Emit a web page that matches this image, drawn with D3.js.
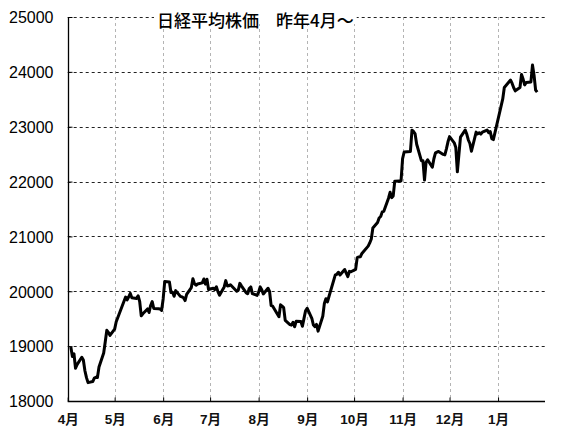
<!DOCTYPE html>
<html><head><meta charset="utf-8">
<script src="https://cdn.jsdelivr.net/npm/d3@7"></script>
<style>
html,body{margin:0;padding:0;background:#fff;}
svg{display:block;}
</style></head>
<body>
<script>
const title = "日経平均株価　昨年4月～";
const yTicks = [18000, 19000, 20000, 21000, 22000, 23000, 24000, 25000];
const monthTicks = ["2017-04-01","2017-05-01","2017-06-01","2017-07-01","2017-08-01","2017-09-01","2017-10-01","2017-11-01","2017-12-01","2018-01-01"];
const monthLabels = ["4月","5月","6月","7月","8月","9月","10月","11月","12月","1月"];
const xDomain = ["2017-04-01","2018-01-31"];

const dates = [
"2017-04-03","2017-04-04","2017-04-05","2017-04-06","2017-04-07","2017-04-10","2017-04-11","2017-04-12","2017-04-13","2017-04-14","2017-04-17","2017-04-18","2017-04-19","2017-04-20","2017-04-21","2017-04-24","2017-04-25","2017-04-26","2017-04-27","2017-04-28",
"2017-05-01","2017-05-02","2017-05-08","2017-05-09","2017-05-10","2017-05-11","2017-05-12","2017-05-15","2017-05-16","2017-05-17","2017-05-18","2017-05-19","2017-05-22","2017-05-23","2017-05-24","2017-05-25","2017-05-26","2017-05-29","2017-05-30","2017-05-31",
"2017-06-01","2017-06-02","2017-06-05","2017-06-06","2017-06-07","2017-06-08","2017-06-09","2017-06-12","2017-06-13","2017-06-14","2017-06-15","2017-06-16","2017-06-19","2017-06-20","2017-06-21","2017-06-22","2017-06-23","2017-06-26","2017-06-27","2017-06-28","2017-06-29","2017-06-30",
"2017-07-03","2017-07-04","2017-07-05","2017-07-06","2017-07-07","2017-07-10","2017-07-11","2017-07-12","2017-07-13","2017-07-14","2017-07-18","2017-07-19","2017-07-20","2017-07-21","2017-07-24","2017-07-25","2017-07-26","2017-07-27","2017-07-28","2017-07-31",
"2017-08-01","2017-08-02","2017-08-03","2017-08-04","2017-08-07","2017-08-08","2017-08-09","2017-08-10","2017-08-14","2017-08-15","2017-08-16","2017-08-17","2017-08-18","2017-08-21","2017-08-22","2017-08-23","2017-08-24","2017-08-25","2017-08-28","2017-08-29","2017-08-30","2017-08-31",
"2017-09-01","2017-09-04","2017-09-05","2017-09-06","2017-09-07","2017-09-08","2017-09-11","2017-09-12","2017-09-13","2017-09-14","2017-09-15","2017-09-19","2017-09-20","2017-09-21","2017-09-22","2017-09-25","2017-09-26","2017-09-27","2017-09-28","2017-09-29",
"2017-10-02","2017-10-03","2017-10-04","2017-10-05","2017-10-06","2017-10-10","2017-10-11","2017-10-12","2017-10-13","2017-10-16","2017-10-17","2017-10-18","2017-10-19","2017-10-20","2017-10-23","2017-10-24","2017-10-25","2017-10-26","2017-10-27","2017-10-30","2017-10-31",
"2017-11-01","2017-11-02","2017-11-06","2017-11-07","2017-11-08","2017-11-09","2017-11-10","2017-11-13","2017-11-14","2017-11-15","2017-11-16","2017-11-17","2017-11-20","2017-11-21","2017-11-22","2017-11-24","2017-11-27","2017-11-28","2017-11-29","2017-11-30",
"2017-12-01","2017-12-04","2017-12-05","2017-12-06","2017-12-07","2017-12-08","2017-12-11","2017-12-12","2017-12-13","2017-12-14","2017-12-15","2017-12-18","2017-12-19","2017-12-20","2017-12-21","2017-12-22","2017-12-25","2017-12-26","2017-12-27","2017-12-28","2017-12-29",
"2018-01-04","2018-01-05","2018-01-09","2018-01-10","2018-01-11","2018-01-12","2018-01-15","2018-01-16","2018-01-17","2018-01-18","2018-01-19","2018-01-22","2018-01-23","2018-01-24","2018-01-25","2018-01-26"
];
const closes = [
18983,18810,18861,18597,18664,18797,18747,18552,18426,18335,18355,18418,18432,18430,18620,18875,19079,19289,19251,19196,
19310,19445,19895,19843,19900,19961,19883,19869,19919,19814,19553,19590,19678,19613,19742,19813,19686,19682,19677,19650,
19860,20177,20170,19979,19984,19909,20013,19908,19898,19883,19831,19943,20067,20230,20138,20110,20132,20153,20225,20130,20220,20033,
20055,20032,20081,19994,19929,20080,20195,20098,20099,20118,20000,20020,20144,20099,19975,19955,20050,20079,19959,19925,
19985,20080,20029,19952,20055,19996,19738,19729,19537,19753,19729,19702,19470,19393,19383,19434,19353,19452,19449,19362,19506,19646,
19691,19508,19385,19357,19396,19274,19545,19776,19865,19807,19909,20299,20310,20347,20296,20397,20330,20267,20363,20356,
20400,20614,20626,20628,20690,20823,20881,20954,21155,21255,21336,21363,21448,21457,21696,21805,21707,21739,22008,22011,22011,
22420,22539,22548,22937,22913,22869,22681,22381,22380,22028,22351,22397,22261,22416,22523,22550,22495,22486,22597,22725,
22819,22707,22622,22177,22498,22811,22938,22866,22758,22694,22553,22901,22868,22891,22866,22902,22939,22892,22911,22783,22765,
23506,23715,23850,23788,23710,23654,23714,23952,23868,23763,23808,23816,24124,23940,23669,23631
];

const W = 566, H = 436;
const M = {left: 67.7, right: 545, top: 17, bottom: 401};
const parse = d3.timeParse("%Y-%m-%d");
const data = dates.map((d, i) => ({date: parse(d), v: closes[i]}));

const x = d3.scaleTime().domain(xDomain.map(parse)).range([M.left, M.right]);
const y = d3.scaleLinear().domain([18000, 25000]).range([M.bottom, M.top]);

const svg = d3.select("body").append("svg").attr("width", W).attr("height", H);

// vertical grid (gray dashed)
svg.append("g").selectAll("line").data(monthTicks.slice(1).map(parse)).join("line")
  .attr("x1", d => Math.round(x(d)) + 0.5).attr("x2", d => Math.round(x(d)) + 0.5)
  .attr("y1", M.top).attr("y2", M.bottom)
  .attr("stroke", "#b4b4b4").attr("stroke-width", 1).attr("stroke-dasharray", "3,3");

// horizontal grid (dark dashed)
svg.append("g").selectAll("line").data(yTicks.slice(1)).join("line")
  .attr("x1", M.left).attr("x2", M.right)
  .attr("y1", d => Math.round(y(d)) + 0.5).attr("y2", d => Math.round(y(d)) + 0.5)
  .attr("stroke", "#222").attr("stroke-width", 1).attr("stroke-dasharray", "3,3");

// axes via d3
const yAxis = d3.axisLeft(y).tickValues(yTicks).tickSize(-4).tickPadding(15).tickFormat(d3.format("d"));
const gy = svg.append("g").attr("transform", `translate(${Math.round(M.left)+0.5},0)`).call(yAxis);
gy.selectAll(".tick line").attr("stroke", "#000");
gy.selectAll(".tick text").attr("font-family", "'Liberation Sans', Arial, sans-serif")
  .attr("font-size", 16).attr("fill", "#000").attr("dy", "0.36em");

const xAxis = d3.axisBottom(x).tickValues(monthTicks.map(parse)).tickSize(-4).tickPadding(13)
  .tickFormat((d, i) => monthLabels[i]);
const gx = svg.append("g").attr("transform", `translate(0,${M.bottom}.5)`).call(xAxis);
gx.selectAll(".tick line").attr("stroke", "#000");
gx.selectAll(".tick text").attr("font-family", "'Liberation Sans', 'Noto Sans CJK JP', sans-serif")
  .attr("font-size", 13.5).attr("font-weight", "bold").attr("fill", "#111");

// plain axis lines without outer tick bits
gx.select(".domain").attr("d", `M${M.left},0H${M.right}`).attr("stroke", "#000").attr("stroke-width", 1.5);
gy.select(".domain").attr("d", `M0,${M.top}V${M.bottom}`).attr("stroke", "#000").attr("stroke-width", 1.3);

// line
const line = d3.line().x(d => x(d.date)).y(d => y(d.v));
svg.append("path").datum(data).attr("d", line)
  .attr("fill", "none").attr("stroke", "#000").attr("stroke-width", 3)
  .attr("stroke-linejoin", "round");

// title
const tg = svg.append("g");
const tt = tg.append("text").attr("x", 157).attr("y", 27)
  .attr("font-family", "'Noto Sans CJK JP', sans-serif").attr("font-size", 17)
  .attr("font-weight", 500).attr("fill", "#000").text(title);
const bb = tt.node().getBBox();
tg.insert("rect", "text").attr("x", bb.x - 3).attr("y", 12).attr("width", bb.width + 6).attr("height", 12).attr("fill", "#fff");
</script>
</body></html>
